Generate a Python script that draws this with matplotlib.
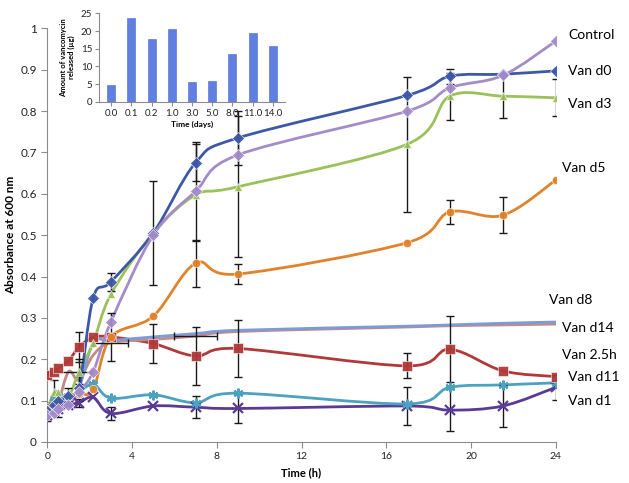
import numpy as np
import matplotlib
matplotlib.use("Agg")
import matplotlib.pyplot as plt
from matplotlib.path import Path
from matplotlib.patches import PathPatch

plt.rcParams["font.family"] = ["Lato", "DejaVu Sans"]

# ---------------------------------------------------------------------------
# data
# ---------------------------------------------------------------------------
t_full = [0, 0.33, 0.5, 1, 1.5, 2.17, 3, 5, 7, 9, 17, 19, 21.5, 24]

control = [0.065, 0.07, 0.08, 0.09, 0.12, 0.17, 0.29, 0.50, 0.606, 0.694, 0.80, 0.856, 0.886, 0.969]
van_d0 = [0.075, 0.09, 0.10, 0.11, 0.13, 0.349, 0.387, 0.505, 0.675, 0.735, 0.838, 0.884, 0.889, 0.897]
van_d3 = [0.08, 0.12, 0.12, 0.11, 0.17, 0.24, 0.357, 0.505, 0.597, 0.617, 0.72, 0.836, 0.836, 0.832]
van_d5 = [0.085, 0.09, 0.10, 0.11, 0.117, 0.127, 0.253, 0.304, 0.432, 0.406, 0.482, 0.556, 0.548, 0.633]
van_d8 = [0.075, 0.085, 0.09, 0.10, 0.13, 0.24, 0.245, 0.254, 0.262, 0.27, 0.28, 0.283, 0.287, 0.29]
van_d14 = [0.07, 0.08, 0.09, 0.17, 0.15, 0.21, 0.24, 0.248, 0.256, 0.267, 0.278, 0.281, 0.283, 0.285]
van_2_5h = [0.162, 0.17, 0.178, 0.196, 0.23, 0.253, 0.254, 0.238, 0.208, 0.226, 0.184, 0.224, 0.172, 0.158]
van_d11 = [0.07, 0.10, 0.11, 0.11, 0.12, 0.14, 0.106, 0.114, 0.095, 0.118, 0.092, 0.132, 0.138, 0.143]
van_d1 = [0.065, 0.075, 0.08, 0.09, 0.095, 0.108, 0.069, 0.087, 0.084, 0.081, 0.087, 0.077, 0.087, 0.132]

# error bars (0 = none drawn)
err_control = [0, 0, 0, 0, 0, 0, 0, 0, 0.12, 0, 0, 0, 0, 0]
err_d0 = [0.02, 0.02, 0, 0.02, 0.03, 0, 0.022, 0.125, 0.045, 0.065, 0, 0.018, 0, 0]
err_d3 = [0, 0.03, 0, 0, 0.03, 0, 0, 0, 0, 0.17, 0.163, 0.057, 0.053, 0.045]
err_d5 = [0, 0, 0, 0, 0, 0, 0, 0, 0.057, 0.024, 0, 0.028, 0.044, 0]
err_2_5h = [0, 0, 0, 0, 0.036, 0, 0.058, 0.047, 0.07, 0.07, 0.03, 0.08, 0, 0]
err_d1 = [0.015, 0, 0.02, 0, 0.01, 0, 0.016, 0, 0.027, 0.035, 0.047, 0.05, 0.05, 0.03]
xerr_d14 = [0, 0, 0, 1.06, 0, 0, 0.83, 0, 1.0, 0, 0, 0, 0, 0]

# inset: vancomycin released per day
release_days = ["0.0", "0.1", "0.2", "1.0", "3.0", "5.0", "8.0", "11.0", "14.0"]
release_ug = [4.8, 23.7, 17.6, 20.7, 5.6, 6.0, 13.4, 19.3, 15.7]


def smooth_path(x, y):
    # excel-style smoothed line: catmull-rom segments as cubic beziers
    pts = np.column_stack([x, y]).astype(float)
    n = len(pts)
    verts = [pts[0]]
    codes = [Path.MOVETO]
    for i in range(n - 1):
        p0 = pts[i - 1] if i > 0 else pts[i]
        p1, p2 = pts[i], pts[i + 1]
        p3 = pts[i + 2] if i + 2 < n else pts[i + 1]
        verts += [p1 + (p2 - p0) / 6.0, p2 - (p3 - p1) / 6.0, p2]
        codes += [Path.CURVE4] * 3
    return Path(verts, codes)


series = [
    (van_d1, "#5b3a96", "x", err_d1, None),
    (van_d11, "#4ba3c0", (6, 2, 0), None, None),
    (van_2_5h, "#b03a3a", "s", err_2_5h, None),
    (van_d14, "#c48a86", None, None, xerr_d14),
    (van_d8, "#7d9bd8", None, None, None),
    (van_d5, "#e0832b", "o", err_d5, None),
    (van_d3, "#9bc15a", "^", err_d3, None),
    (van_d0, "#3e58a8", "D", err_d0, None),
    (control, "#a48ccb", "D", err_control, None),
]

fig = plt.figure(figsize=(6.29, 4.83), dpi=100)
ax = fig.add_axes([0.0752, 0.0849, 0.8083, 0.8565])

for vals, color, marker, err, xerr in series:
    t = np.array(t_full)
    v = np.array(vals)
    ax.add_patch(PathPatch(smooth_path(t, v), facecolor="none", edgecolor=color,
                           lw=2.0, zorder=3, capstyle="round", joinstyle="round"))
    if err is not None:
        e = np.array(err)
        m = e > 0
        ax.errorbar(t[m], v[m], yerr=e[m], fmt="none", ecolor="#1a1a1a",
                    elinewidth=1.0, capsize=3, capthick=1.0, zorder=4)
    if xerr is not None:
        e = np.array(xerr)
        m = e > 0
        ax.errorbar(t[m], v[m], xerr=e[m], fmt="none", ecolor="#1a1a1a",
                    elinewidth=1.0, capsize=3, capthick=1.0, zorder=4)
    if marker is not None:
        if marker in ("x", (6, 2, 0)):
            ax.plot(t, v, ls="none", marker=marker, ms=7, mec=color, mew=1.6, zorder=5)
        else:
            ms = 7 if marker == "s" else 6
            ax.plot(t, v, ls="none", marker=marker, ms=ms, mfc=color, mec="white",
                    mew=0.4, alpha=0.95, zorder=5)

ax.set_xlim(0, 24)
ax.set_ylim(0, 1)
ax.set_xticks([0, 4, 8, 12, 16, 20, 24])
ax.set_yticks(np.arange(0, 1.01, 0.1))
ax.set_yticklabels(["0", "0.1", "0.2", "0.3", "0.4", "0.5", "0.6", "0.7", "0.8", "0.9", "1"])
for s in ("top", "right"):
    ax.spines[s].set_visible(False)
for s in ("left", "bottom"):
    ax.spines[s].set_color("#8c8c8c")
ax.tick_params(axis="both", direction="out", length=4, color="#8c8c8c",
               labelsize=8.5, labelcolor="#222222")
ax.tick_params(axis="x", labelsize=7.5)
ax.set_xlabel("Time (h)", fontsize=8, fontweight="bold", labelpad=4)
ax.set_ylabel("Absorbance at 600 nm", fontsize=8.5, fontweight="bold", labelpad=3)

labels = [
    ("Control", 24.6, 0.983),
    ("Van d0", 24.6, 0.898),
    ("Van d3", 24.6, 0.818),
    ("Van d5", 24.3, 0.662),
    ("Van d8", 23.7, 0.343),
    ("Van d14", 24.3, 0.275),
    ("Van 2.5h", 24.3, 0.210),
    ("Van d11", 24.6, 0.158),
    ("Van d1", 24.6, 0.098),
]
for txt, x, y in labels:
    ax.text(x, y, txt, fontsize=10, va="center", ha="left", clip_on=False)

# inset bar chart
ins = fig.add_axes([0.1574, 0.7894, 0.2957, 0.1830])
ins.patch.set_alpha(0)
ins.bar(np.arange(len(release_days)), release_ug, width=0.4, color="#5f80e0",
        edgecolor="#4a6bd0", linewidth=0.4)
ins.set_ylim(0, 25)
ins.set_xlim(-0.6, len(release_days) - 0.4)
ins.set_yticks([0, 5, 10, 15, 20, 25])
ins.set_xticks(np.arange(len(release_days)))
ins.set_xticklabels(release_days)
for s in ("top", "right"):
    ins.spines[s].set_visible(False)
for s in ("left", "bottom"):
    ins.spines[s].set_color("#8c8c8c")
ins.tick_params(axis="both", direction="out", length=3, color="#8c8c8c",
                labelsize=7, labelcolor="#222222", pad=2)
ins.set_xlabel("Time (days)", fontsize=6, fontweight="bold", labelpad=2)
ins.set_ylabel("Amount of vancomycin\nreleased (\u00b5g)", fontsize=5.5,
               fontweight="bold", labelpad=4)

fig.savefig("out.png", dpi=100)
